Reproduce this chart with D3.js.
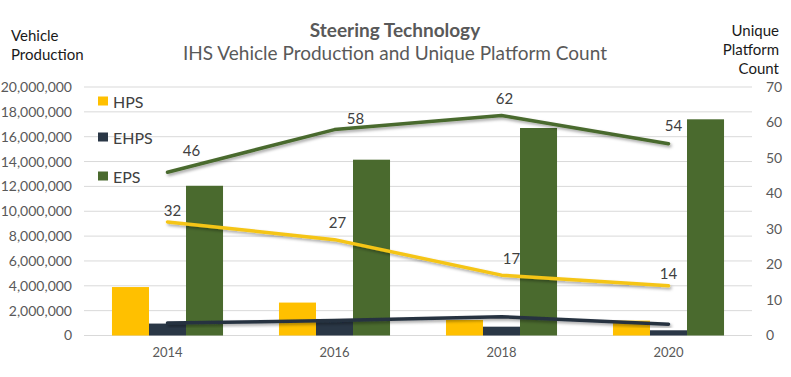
<!DOCTYPE html>
<html><head><meta charset="utf-8">
<script src="https://cdn.jsdelivr.net/npm/d3@7"></script>
<style>
html,body{margin:0;padding:0;background:#fff;}
svg{display:block;font-family:Lato,"Open Sans",sans-serif;}
</style></head>
<body><svg id="chart" width="791" height="377"></svg>
<script>
const categories = ["2014","2016","2018","2020"];
const seriesNames = ["HPS","EHPS","EPS"];
const hpsProduction  = [3900000, 2650000, 1250000, 1200000];
const ehpsProduction = [960000, 1330000, 710000, 420000];
const epsProduction  = [12050000, 14150000, 16700000, 17400000];
const hpsPlatforms  = [32, 27, 17, 14];
const ehpsPlatforms = [3.5, 4.2, 5.3, 3.2];
const epsPlatforms  = [46, 58, 62, 54];
const leftTicks  = [0,2000000,4000000,6000000,8000000,10000000,12000000,14000000,16000000,18000000,20000000];
const rightTicks = [0,10,20,30,40,50,60,70];

const colors = {HPS:"#FFC000", EHPS:"#2A3746", EPS:"#4A6A2E"};
const lineColors = {HPS:"#F5C518", EHPS:"#263241", EPS:"#4A6A2E"};

const svg = d3.select("#chart");
const L = 84, R = 752, T = 87, B = 335.5;

const x0 = d3.scaleBand().domain(categories).range([L,R]).paddingInner(0.335).paddingOuter(0.1675);
const x1 = d3.scaleBand().domain(seriesNames).range([0,x0.bandwidth()]);
const yL = d3.scaleLinear().domain([0,20000000]).range([B,T]);
const yR = d3.scaleLinear().domain([0,70]).range([B,T]);

// shadow filter
const defs = svg.append("defs");
const f = defs.append("filter").attr("id","sh").attr("x","-10%").attr("y","-50%").attr("width","120%").attr("height","200%");
f.append("feDropShadow").attr("dx",1.5).attr("dy",2).attr("stdDeviation",1.5).attr("flood-color","#000").attr("flood-opacity",0.35);

// gridlines
svg.append("g").selectAll("line").data(leftTicks).join("line")
  .attr("x1",L).attr("x2",R).attr("y1",d=>yL(d)).attr("y2",d=>yL(d))
  .attr("stroke","#D9D9D9").attr("stroke-width",1);

// left axis
const gl = svg.append("g").attr("transform",`translate(${L},0)`)
  .call(d3.axisLeft(yL).tickValues(leftTicks).tickFormat(d3.format(",")).tickSize(0).tickPadding(12));
gl.select(".domain").remove();
gl.selectAll("text").attr("font-size",14).attr("fill","#595959").attr("font-family","Lato,sans-serif");

// right axis
const gr = svg.append("g").attr("transform",`translate(${R},0)`)
  .call(d3.axisRight(yR).tickValues(rightTicks).tickSize(0).tickPadding(14));
gr.select(".domain").remove();
gr.selectAll("text").attr("font-size",14).attr("fill","#595959").attr("font-family","Lato,sans-serif");

// bottom axis
const gb = svg.append("g").attr("transform",`translate(0,${B})`)
  .call(d3.axisBottom(x0).tickSize(0).tickPadding(12));
gb.select(".domain").remove();
gb.selectAll("text").attr("font-size",13).attr("fill","#595959").attr("font-family","Lato,sans-serif");

// bars
const prod = {HPS:hpsProduction, EHPS:ehpsProduction, EPS:epsProduction};
const barG = svg.append("g");
categories.forEach((c,i)=>{
  seriesNames.forEach(s=>{
    barG.append("rect")
      .attr("x",x0(c)+x1(s)).attr("width",x1.bandwidth())
      .attr("y",yL(prod[s][i])).attr("height",B-yL(prod[s][i]))
      .attr("fill",colors[s]);
  });
});

// lines
const plat = {HPS:hpsPlatforms, EHPS:ehpsPlatforms, EPS:epsPlatforms};
const cx = c => x0(c)+x0.bandwidth()/2;
const line = d3.line().x(d=>cx(d.c)).y(d=>yR(d.v));
seriesNames.forEach(s=>{
  svg.append("path").datum(categories.map((c,i)=>({c,v:plat[s][i]})))
    .attr("d",line).attr("fill","none").attr("stroke",lineColors[s])
    .attr("stroke-width",3.5).attr("stroke-linejoin","round").attr("stroke-linecap","round")
    .attr("filter","url(#sh)");
});

// line labels (placement offsets)
const labelOffsets = {
  HPS: [[5,-12],[3,-18],[10,-17],[0,-13]],
  EPS: [[24,-22],[21,-12],[3,-17],[5,-19]]
};
["HPS","EPS"].forEach(s=>{
  categories.forEach((c,i)=>{
    const o = labelOffsets[s][i];
    svg.append("text").attr("x",cx(c)+o[0]).attr("y",yR(plat[s][i])+o[1])
      .attr("text-anchor","middle").attr("dominant-baseline","central")
      .attr("font-size",15).attr("fill","#404040").text(plat[s][i]);
  });
});

// legend
const legY = [101, 137, 176];
seriesNames.forEach((s,i)=>{
  svg.append("rect").attr("x",98).attr("y",legY[i]-4.5).attr("width",10).attr("height",9).attr("fill",colors[s]);
  svg.append("text").attr("x",113).attr("y",legY[i]).attr("dominant-baseline","central")
    .attr("font-size",16).attr("fill","#404040").text(s);
});

// titles
svg.append("text").attr("x",395).attr("y",37).attr("text-anchor","middle")
  .attr("font-size",19).attr("font-weight","bold").attr("fill","#595959").text("Steering Technology");
svg.append("text").attr("x",395).attr("y",60).attr("text-anchor","middle")
  .attr("font-size",19).attr("fill","#595959").text("IHS Vehicle Production and Unique Platform Count");

// axis titles
svg.append("text").attr("x",11).attr("y",41).attr("font-size",15).attr("fill","#1a1a1a").text("Vehicle");
svg.append("text").attr("x",11).attr("y",60).attr("font-size",15).attr("fill","#1a1a1a").text("Production");
["Unique","Platform","Count"].forEach((t,i)=>{
  svg.append("text").attr("x",779).attr("y",36+i*19).attr("text-anchor","end")
    .attr("font-size",15).attr("fill","#1a1a1a").text(t);
});
</script></body></html>
